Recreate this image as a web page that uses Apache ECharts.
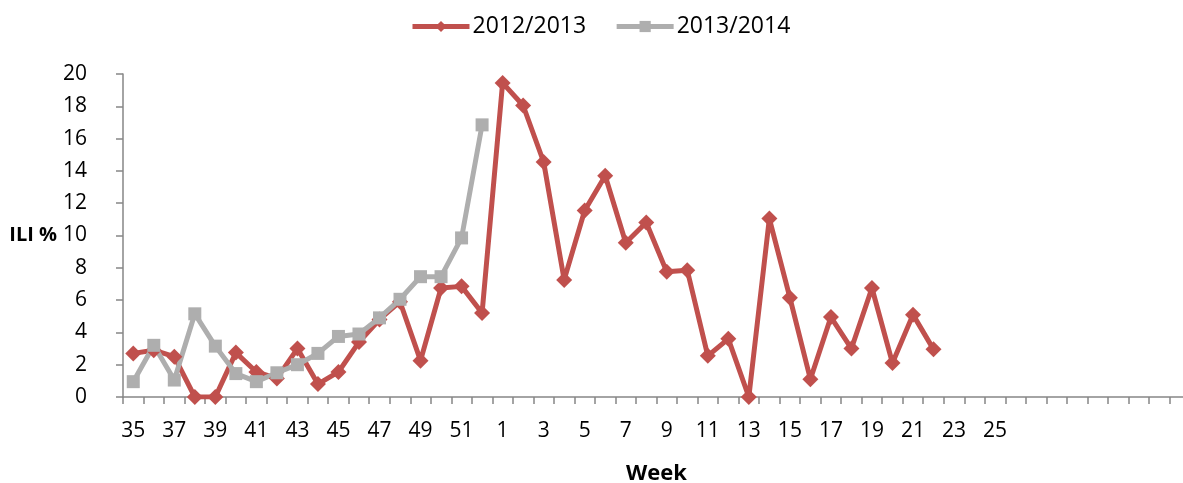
<!DOCTYPE html>
<html>
<head>
<meta charset="utf-8">
<script src="https://cdn.jsdelivr.net/npm/echarts@6/dist/echarts.min.js"></script>
<style>
html,body{margin:0;padding:0;background:#fff;}
#chart{width:1183px;height:483px;}
</style>
</head>
<body>
<div id="chart"></div>
<script>
// Weeks 35..52 then 1..34 (52 categories); labels shown up to week 25
var weeks = ['35','36','37','38','39','40','41','42','43','44','45','46','47','48','49','50','51','52',
  '1','2','3','4','5','6','7','8','9','10','11','12','13','14','15','16','17','18','19','20','21','22','23','24','25','26',
  '27','28','29','30','31','32','33','34'];
var lastLabeledWeek = '25';

var season2012 = [2.7, 2.9, 2.5, 0, 0, 2.75, 1.55, 1.15, 3.0, 0.8, 1.55, 3.4, 4.8, 5.9, 2.25, 6.75, 6.85, 5.2,
  19.45, 18.05, 14.55, 7.25, 11.55, 13.7, 9.55, 10.8, 7.75, 7.85, 2.55, 3.6, 0, 11.05, 6.15, 1.1, 4.95, 3.0, 6.75, 2.1, 5.1, 2.95];
var season2013 = [0.95, 3.2, 1.05, 5.15, 3.15, 1.45, 0.95, 1.5, 2.0, 2.7, 3.75, 3.9, 4.9, 6.05, 7.45, 7.45, 9.85, 16.85];

var seriesNames = ['2012/2013', '2013/2014'];
var seriesColors = ['#C0504D', '#AEAEAE'];
var yTicks = {min: 0, max: 20, interval: 2};

var chart = echarts.init(document.getElementById('chart'));
var lastIdx = weeks.indexOf(lastLabeledWeek);
chart.setOption({
  animation: false,
  textStyle: {fontFamily: 'Open Sans'},
  legend: {
    top: 10,
    left: 405,
    itemWidth: 57,
    itemHeight: 14,
    itemGap: 28,
    textStyle: {fontSize: 23, color: '#000', fontFamily: 'Open Sans', padding: [0, 0, 0, -2]},
    data: [
      {name: seriesNames[0], lineStyle: {width: 5}},
      {name: seriesNames[1], lineStyle: {width: 5}}
    ]
  },
  grid: {
    left: 123, right: -7, top: 74, bottom: 86,
    containLabel: false, outerBoundsMode: 'none'
  },
  xAxis: {
    type: 'category',
    data: weeks,
    boundaryGap: true,
    name: 'Week',
    nameLocation: 'middle',
    nameGap: 66,
    nameTextStyle: {fontSize: 22, fontWeight: 'bold', color: '#000', fontFamily: 'Open Sans'},
    axisLine: {lineStyle: {color: '#868686', width: 1.5}},
    axisTick: {show: true, length: 7, interval: 0, alignWithLabel: false, lineStyle: {color: '#868686', width: 1.5}},
    axisLabel: {
      interval: 1, margin: 24, fontSize: 21, color: '#000', fontFamily: 'Open Sans',
      formatter: function (v, i) { return i <= lastIdx ? v : ''; }
    },
    splitLine: {show: false}
  },
  yAxis: {
    type: 'value',
    min: yTicks.min, max: yTicks.max, interval: yTicks.interval,
    name: 'ILI %',
    nameLocation: 'middle',
    nameRotate: 0,
    nameGap: 64,
    nameTextStyle: {fontSize: 20, fontWeight: 'bold', color: '#000', fontFamily: 'Open Sans', align: 'right', verticalAlign: 'middle'},
    axisLine: {show: true, lineStyle: {color: '#868686', width: 1.5}},
    axisTick: {show: true, length: 7, lineStyle: {color: '#868686', width: 1.5}},
    axisLabel: {margin: 36, fontSize: 21, color: '#000', fontFamily: 'Open Sans'},
    splitLine: {show: false}
  },
  series: [
    {
      name: seriesNames[0],
      type: 'line',
      data: season2012,
      symbol: 'diamond',
      symbolSize: 16,
      showAllSymbol: true,
      lineStyle: {color: seriesColors[0], width: 5},
      itemStyle: {color: seriesColors[0]}
    },
    {
      name: seriesNames[1],
      type: 'line',
      data: season2013,
      symbol: 'rect',
      symbolSize: 13,
      showAllSymbol: true,
      lineStyle: {color: seriesColors[1], width: 5},
      itemStyle: {color: seriesColors[1]}
    }
  ]
});
</script>
</body>
</html>
